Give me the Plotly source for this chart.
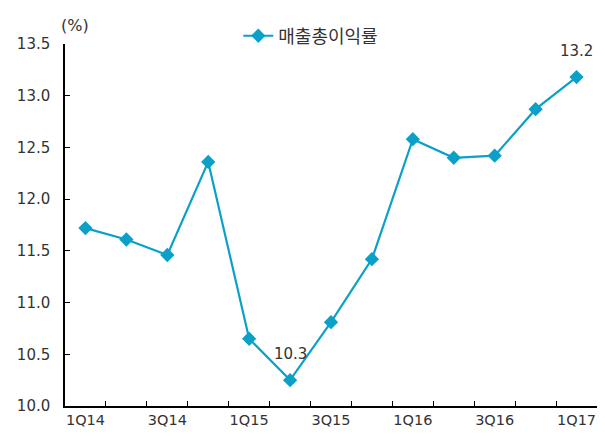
import plotly.graph_objects as go

categories = ["1Q14", "2Q14", "3Q14", "4Q14", "1Q15", "2Q15", "3Q15", "4Q15",
              "1Q16", "2Q16", "3Q16", "4Q16", "1Q17"]
gross_margin = [11.72, 11.61, 11.46, 12.36, 10.65, 10.25, 10.81, 11.42,
                12.58, 12.40, 12.42, 12.87, 13.18]
tick_labels = ["1Q14", "3Q14", "1Q15", "3Q15", "1Q16", "3Q16", "1Q17"]
series_name = "매출총이익률"
label_points = {"2Q15": "10.3", "1Q17": "13.2"}

color = "#0BA0C8"
font_fam = "DejaVu Sans, sans-serif"
txt_color = "#333333"

fig = go.Figure()
fig.add_trace(go.Scatter(
    x=list(range(len(categories))), y=gross_margin, mode="lines+markers",
    name=series_name,
    line=dict(color=color, width=2.2),
    marker=dict(symbol="diamond", size=11, color=color),
))

for cat, txt in label_points.items():
    i = categories.index(cat)
    fig.add_annotation(x=i, y=gross_margin[i], text=txt, showarrow=False,
                       yshift=26, font=dict(size=15, color=txt_color, family=font_fam))

fig.add_annotation(xref="paper", yref="paper", x=0.0197, y=1.0, xanchor="center",
                   yanchor="middle", yshift=19, text="(%)", showarrow=False,
                   font=dict(size=16, color=txt_color, family=font_fam))

fig.update_layout(
    width=597, height=428,
    margin=dict(l=57, r=8, t=36, b=30, autoexpand=False),
    plot_bgcolor="white", paper_bgcolor="white",
    font=dict(family=font_fam, size=15, color=txt_color),
    showlegend=True,
    legend=dict(x=0.462, y=1.022, xanchor="center", yanchor="middle",
                orientation="h", font=dict(size=18, color=txt_color,
                family="Noto Sans CJK KR, sans-serif"),
                bgcolor="rgba(0,0,0,0)", yref="paper"),
    xaxis=dict(
        range=[-0.5, len(categories) - 0.5],
        tickmode="array",
        tickvals=[categories.index(t) for t in tick_labels],
        ticktext=tick_labels,
        tickfont=dict(size=14.5),
        showline=True, linecolor="black", linewidth=1.5,
        showgrid=False, zeroline=False,
        ticks="", fixedrange=True,
    ),
    xaxis2=dict(
        overlaying="x", range=[-0.5, len(categories) - 0.5],
        tickmode="array", tickvals=[i + 0.5 for i in range(len(categories))],
        ticks="inside", ticklen=5, tickcolor="black", showticklabels=False,
        showgrid=False, showline=False, zeroline=False, side="bottom",
    ),
    yaxis=dict(
        range=[10.0, 13.5], dtick=0.5, tickformat=".1f",
        showline=True, linecolor="black", linewidth=1.5,
        showgrid=False, zeroline=False,
        ticks="inside", ticklen=5, tickcolor="black",
        ticklabelstandoff=10,
    ),
)
fig.add_trace(go.Scatter(x=[0], y=[gross_margin[0]], xaxis="x2", mode="markers",
                         marker=dict(opacity=0), showlegend=False, hoverinfo="skip"))

fig.write_html("out.html")
